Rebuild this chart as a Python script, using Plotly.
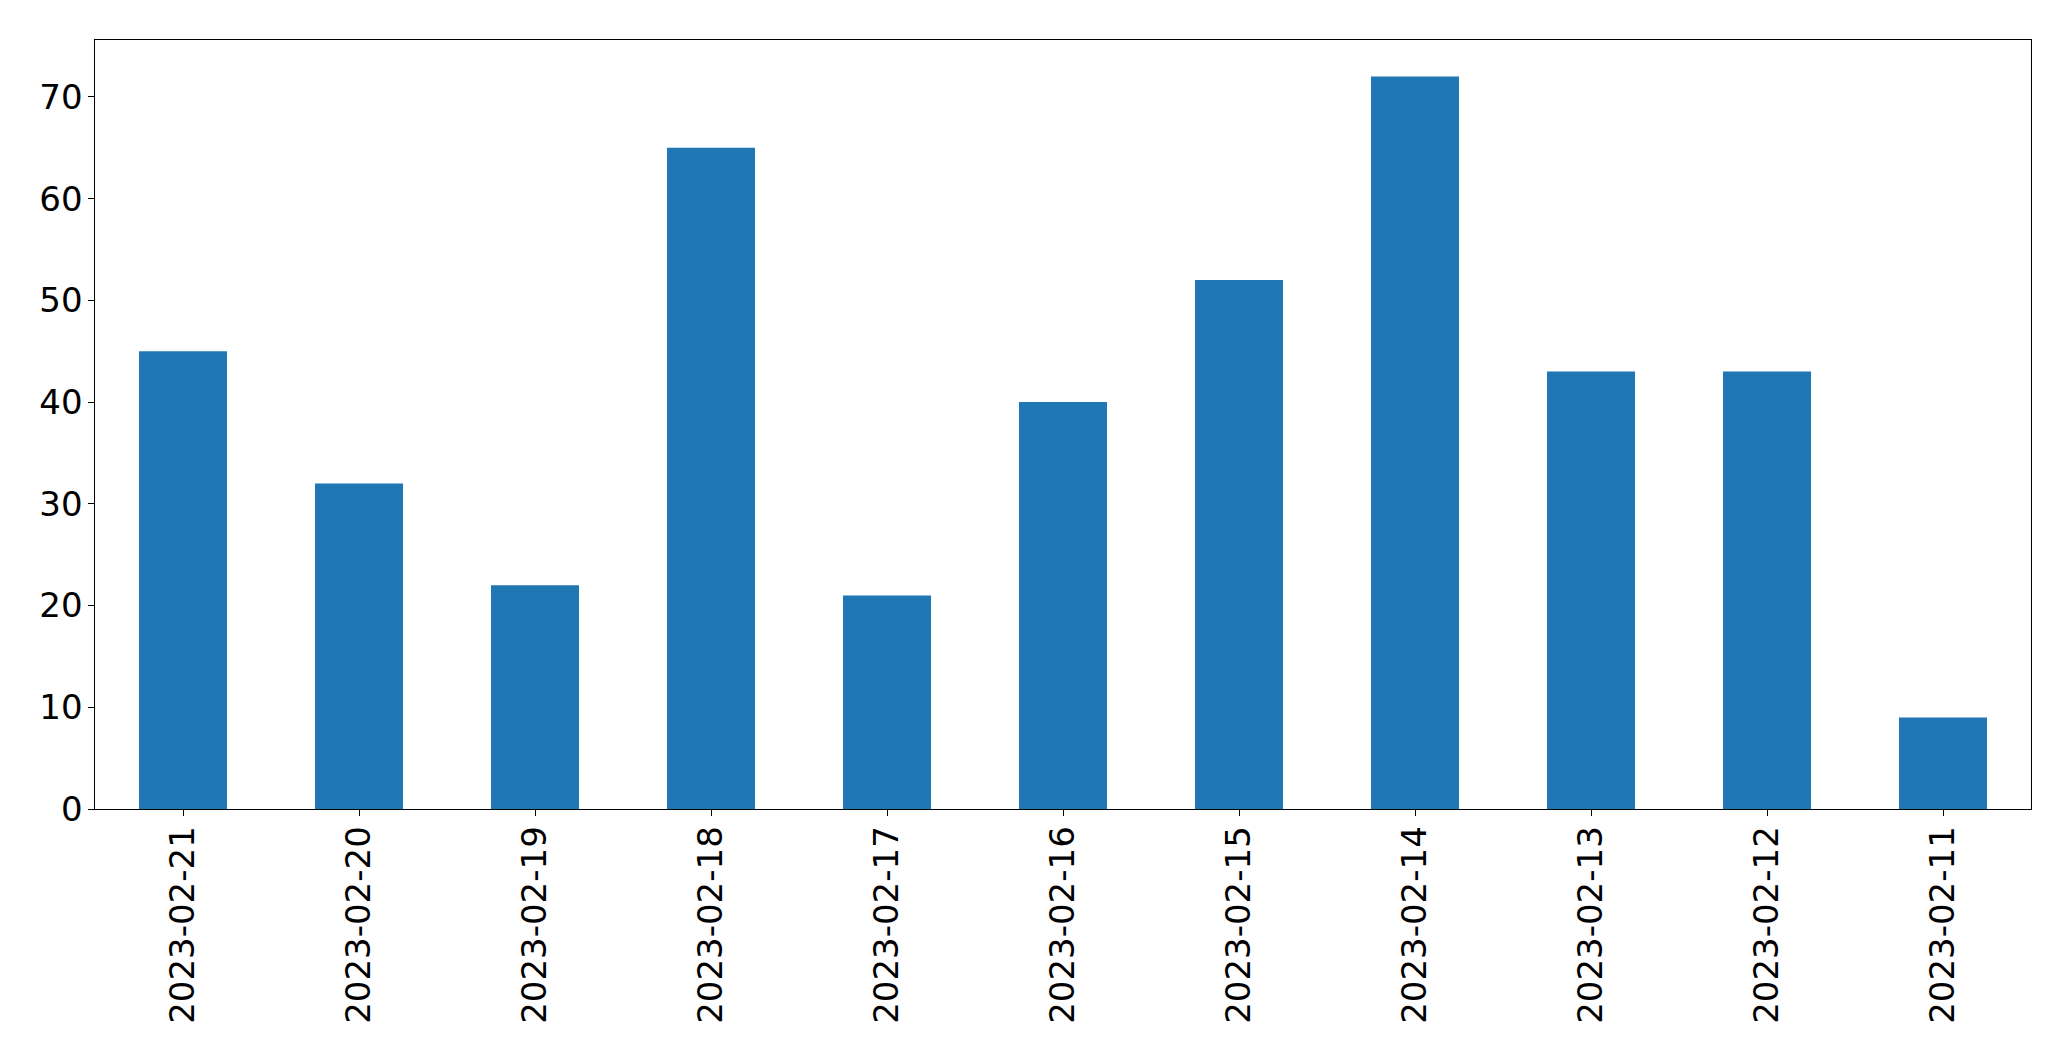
import plotly.graph_objects as go

dates = ["2023-02-21", "2023-02-20", "2023-02-19", "2023-02-18", "2023-02-17",
         "2023-02-16", "2023-02-15", "2023-02-14", "2023-02-13", "2023-02-12", "2023-02-11"]
counts = [45, 32, 22, 65, 21, 40, 52, 72, 43, 43, 9]
y_ticks = [0, 10, 20, 30, 40, 50, 60, 70]

fig = go.Figure(go.Bar(x=dates, y=counts, width=0.5, marker=dict(color="#1f77b4", line=dict(width=0))))

# page body has an 8px default margin, so sizes are reduced by 8px
fig.update_layout(
    width=2063, height=1053,
    margin=dict(l=86.5, r=39.5, t=31.5, b=252, autoexpand=False),
    paper_bgcolor="white", plot_bgcolor="white",
    font=dict(family="DejaVu Sans", size=34, color="black"),
    showlegend=False,
)
fig.update_xaxes(
    type="category", range=[-0.5, len(dates) - 0.5],
    tickangle=-90, ticks="outside", ticklen=5.5, tickwidth=1.2, tickcolor="black",
    ticklabelstandoff=-3,
    showline=True, linecolor="black", linewidth=1.3, mirror=True,
    showgrid=False, zeroline=False,
)
fig.update_yaxes(
    range=[0, max(counts) * 1.05], tickvals=y_ticks,
    ticks="outside", ticklen=5.5, tickwidth=1.2, tickcolor="black",
    ticklabelstandoff=-1,
    showline=True, linecolor="black", linewidth=1.3, mirror=True,
    showgrid=False, zeroline=False,
)
fig.write_html("out.html")
